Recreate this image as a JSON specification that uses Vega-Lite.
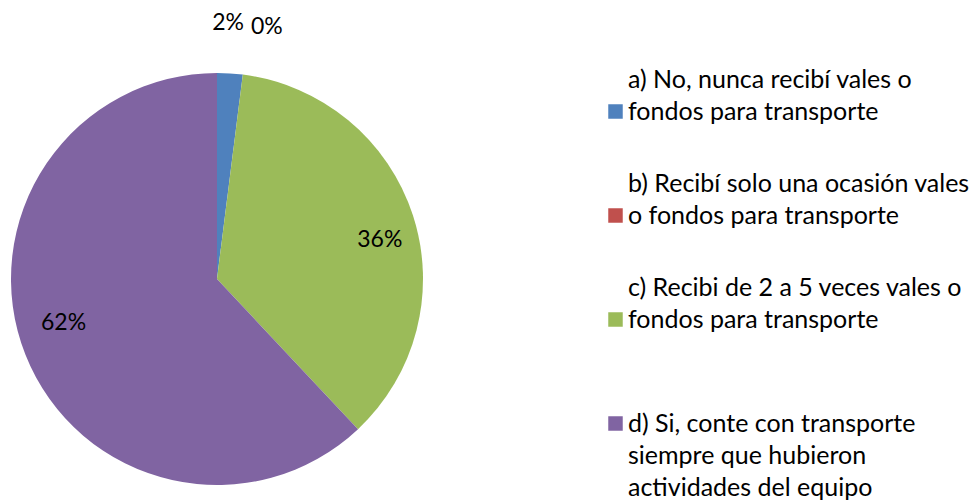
{
  "$schema": "https://vega.github.io/schema/vega-lite/v6.json",
  "width": 434,
  "height": 442,
  "autosize": {"type": "none"},
  "padding": {"left": 0, "top": 58, "right": 540, "bottom": 0},
  "background": "white",
  "config": {"view": {"stroke": null}, "font": "Lato"},
  "data": {
    "values": [
      {"respuesta": "a) No, nunca recibí vales o fondos para transporte", "share": 0.02},
      {"respuesta": "b) Recibí solo una ocasión vales o fondos para transporte", "share": 0.0},
      {"respuesta": "c) Recibi de 2 a 5 veces vales o fondos para transporte", "share": 0.36},
      {"respuesta": "d) Si, conte con transporte siempre que hubieron actividades del equipo", "share": 0.62}
    ]
  },
  "transform": [
    {"stack": "share", "groupby": [], "sort": [{"field": "respuesta", "order": "ascending"}], "as": ["s0", "s1"]},
    {"calculate": "(datum.s0 + datum.s1) / 2", "as": "mid"}
  ],
  "encoding": {
    "color": {
      "field": "respuesta",
      "type": "nominal",
      "scale": {"range": ["#4F81BD", "#C0504D", "#9BBB59", "#8064A2"]},
      "legend": {
        "title": null,
        "orient": "none",
        "legendX": 603,
        "legendY": 41,
        "symbolType": "square",
        "symbolSize": 210,
        "symbolStrokeWidth": 0,
        "symbolOffset": 0,
        "labelFontSize": 25,
        "labelFont": "Lato",
        "labelColor": "#000000",
        "labelLimit": 400,
        "labelOffset": 0,
        "rowPadding": 46,
        "labelExpr": "indexof(datum.label,'a)')==0 ? ['a) No, nunca recibí vales o','fondos para transporte'] : indexof(datum.label,'b)')==0 ? ['b) Recibí solo una ocasión vales','o fondos para transporte'] : indexof(datum.label,'c)')==0 ? ['c) Recibi de 2 a 5 veces vales o','fondos para transporte'] : [' ','d) Si, conte con transporte','siempre que hubieron','actividades del equipo']",
        "encode": {
          "labels": {
            "update": {
              "lineHeight": {"value": 32},
              "baseline": {"value": "middle"},
              "dy": {"value": -32}
            }
          }
        }
      }
    }
  },
  "layer": [
    {
      "mark": {"type": "arc", "outerRadius": 206},
      "encoding": {
        "theta": {"field": "s0", "type": "quantitative", "scale": {"domain": [0, 1]}},
        "theta2": {"field": "s1"}
      }
    },
    {
      "transform": [{"filter": "indexof(datum.respuesta,'a)')==0"}],
      "mark": {"type": "text", "radius": 257, "fontSize": 23, "dx": -5, "font": "Lato"},
      "encoding": {"theta": {"field": "mid", "type": "quantitative"}, "text": {"field": "share", "type": "quantitative", "format": ".0%"}, "color": {"value": "#000000"}}
    },
    {
      "transform": [{"filter": "indexof(datum.respuesta,'b)')==0"}],
      "mark": {"type": "text", "radius": 254, "fontSize": 23, "dx": 18, "font": "Lato"},
      "encoding": {"theta": {"field": "mid", "type": "quantitative"}, "text": {"field": "share", "type": "quantitative", "format": ".0%"}, "color": {"value": "#000000"}}
    },
    {
      "transform": [{"filter": "indexof(datum.respuesta,'c)')==0"}],
      "mark": {"type": "text", "radius": 168, "fontSize": 23, "dx": 3, "dy": 13, "font": "Lato"},
      "encoding": {"theta": {"field": "mid", "type": "quantitative"}, "text": {"field": "share", "type": "quantitative", "format": ".0%"}, "color": {"value": "#000000"}}
    },
    {
      "transform": [{"filter": "indexof(datum.respuesta,'d)')==0"}],
      "mark": {"type": "text", "radius": 165, "fontSize": 23, "dy": -17, "font": "Lato"},
      "encoding": {"theta": {"field": "mid", "type": "quantitative"}, "text": {"field": "share", "type": "quantitative", "format": ".0%"}, "color": {"value": "#000000"}}
    }
  ]
}
